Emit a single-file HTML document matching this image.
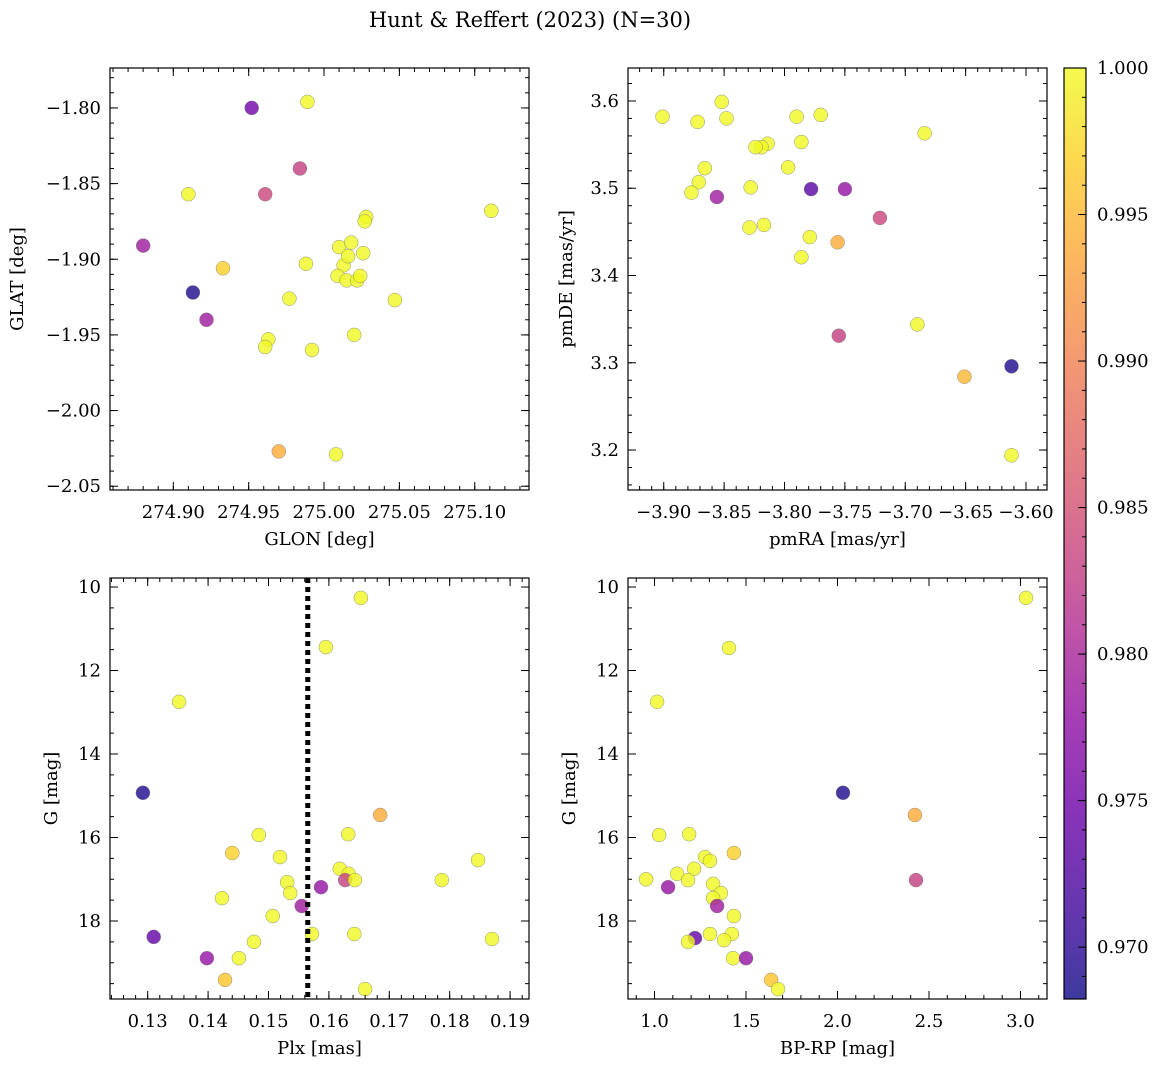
<!DOCTYPE html>
<html><head><meta charset="utf-8">
<style>
html,body{margin:0;padding:0;background:#fff;}
svg{display:block;font-family:"DejaVu Serif","Liberation Serif",serif;}
</style></head>
<body>
<svg id="fig" width="1161" height="1067" viewBox="0 0 1161 1067" xmlns="http://www.w3.org/2000/svg">
<text x="530" y="27" font-size="21" text-anchor="middle">Hunt &amp; Reffert (2023) (N=30)</text>
</svg>
<script>
// ---- data ----
const p1_glon = [274.952,274.989,274.984,274.961,274.910,274.880,275.111,275.028,275.027,274.933,274.913,274.922,274.988,275.010,275.018,275.013,275.016,275.026,275.009,275.015,275.022,275.024,274.977,275.047,274.963,274.961,274.992,275.020,274.970,275.008];
const p1_glat = [-1.800,-1.796,-1.840,-1.857,-1.857,-1.891,-1.868,-1.872,-1.875,-1.906,-1.922,-1.940,-1.903,-1.892,-1.889,-1.904,-1.898,-1.896,-1.911,-1.914,-1.914,-1.911,-1.926,-1.927,-1.953,-1.958,-1.960,-1.950,-2.027,-2.029];
const p1_prob = [0.975,1,0.983,0.984,1,0.979,1,1,1,0.997,0.969,0.979,1,1,1,1,1,1,1,1,1,1,1,1,1,1,1,1,0.994,1];

const p2_pmra = [-3.901,-3.852,-3.872,-3.848,-3.790,-3.770,-3.684,-3.814,-3.819,-3.824,-3.786,-3.866,-3.797,-3.871,-3.877,-3.828,-3.856,-3.778,-3.750,-3.721,-3.829,-3.817,-3.779,-3.756,-3.786,-3.755,-3.690,-3.651,-3.612,-3.612];
const p2_pmde = [3.582,3.599,3.576,3.580,3.582,3.584,3.563,3.551,3.547,3.547,3.553,3.523,3.524,3.507,3.495,3.501,3.490,3.499,3.499,3.466,3.455,3.458,3.444,3.438,3.421,3.331,3.344,3.284,3.296,3.194];
const p2_prob = [1,1,1,1,1,1,1,1,1,1,1,1,1,1,1,1,0.979,0.973,0.978,0.984,1,1,1,0.994,1,0.983,1,0.995,0.969,1];

const p3_plx = [0.1653,0.1595,0.1352,0.1292,0.1685,0.1484,0.1632,0.1440,0.1519,0.1847,0.1618,0.1633,0.1627,0.1643,0.1787,0.1531,0.1587,0.1536,0.1423,0.1555,0.1507,0.1572,0.1642,0.1310,0.1870,0.1476,0.1451,0.1398,0.1428,0.1660];
const p3_g = [10.26,11.44,12.75,14.93,15.46,15.94,15.92,16.37,16.47,16.54,16.75,16.87,17.02,17.02,17.02,17.07,17.19,17.33,17.45,17.64,17.88,18.31,18.31,18.38,18.43,18.50,18.89,18.89,19.41,19.63];
const p3_prob = [1,1,1,0.969,0.994,1,1,0.997,1,1,1,1,0.983,1,1,1,0.978,1,1,0.979,1,1,1,0.974,1,1,1,0.978,0.996,1];
const plx_line = 0.1565;

const p4_bprp = [3.030,1.407,1.014,2.030,2.423,1.025,1.189,1.434,1.276,1.303,1.216,1.123,1.183,0.954,2.429,1.074,1.320,1.363,1.320,1.342,1.434,1.303,1.423,1.221,1.380,1.183,1.429,1.500,1.637,1.675];
const p4_g = [10.26,11.46,12.75,14.93,15.46,15.94,15.92,16.37,16.47,16.56,16.75,16.87,17.02,17.00,17.02,17.19,17.11,17.33,17.45,17.64,17.88,18.31,18.31,18.41,18.46,18.50,18.89,18.89,19.41,19.63];
const p4_prob = [1,1,1,0.969,0.994,1,1,0.997,1,1,1,1,1,1,0.983,0.978,1,1,1,0.979,1,1,1,0.974,1,1,1,0.978,0.996,1];

const cbar_ticks = [0.970,0.975,0.980,0.985,0.990,0.995,1.000];
const p1_xticks = [274.90,274.95,275.00,275.05,275.10];
const p1_yticks = [-1.80,-1.85,-1.90,-1.95,-2.00,-2.05];
const p2_xticks = [-3.90,-3.85,-3.80,-3.75,-3.70,-3.65,-3.60];
const p2_yticks = [3.2,3.3,3.4,3.5,3.6];
const p3_xticks = [0.13,0.14,0.15,0.16,0.17,0.18,0.19];
const g_ticks = [10,12,14,16,18];
const p4_xticks = [1.0,1.5,2.0,2.5,3.0];

const VMIN = 0.96823, VMAX = 1.0;
const NS = "http://www.w3.org/2000/svg";
const svg = document.getElementById('fig');
const stops = ["#0d0887","#41049d","#6a00a8","#8f0da4","#b12a90","#cc4778","#e16462","#f2844b","#fca636","#fcce25","#f0f921"];
function hex(h){return [parseInt(h.substr(1,2),16),parseInt(h.substr(3,2),16),parseInt(h.substr(5,2),16)];}
function plasma(t){
  t=Math.max(0,Math.min(1,t));const f=t*10;const i=Math.min(9,Math.floor(f));const u=f-i;
  const a=hex(stops[i]),b=hex(stops[i+1]);
  return "rgb("+a.map((v,k)=>Math.round(v+(b[k]-v)*u)).join(",")+")";
}
function mk(tag,attrs,parent){const e=document.createElementNS(NS,tag);for(const k in attrs)e.setAttribute(k,attrs[k]);(parent||svg).appendChild(e);return e;}
function fmt(v,d){return (v<0?"\u2212":"")+Math.abs(v).toFixed(d);}

function panel(o){
  const g=mk('g',{});
  
  
  const sx=v=>o.x0+(v-o.xmin)/(o.xmax-o.xmin)*(o.x1-o.x0);
  const sy=o.inv?(v=>o.y0+(v-o.ymin)/(o.ymax-o.ymin)*(o.y1-o.y0)):(v=>o.y1-(v-o.ymin)/(o.ymax-o.ymin)*(o.y1-o.y0));
  const pg=mk('g',{},g);
  
  
  for(let i=0;i<o.xs.length;i++){
    const c=mk('circle',{cx:sx(o.xs[i]).toFixed(1),cy:sy(o.ys[i]).toFixed(1),r:7,fill:plasma((o.ps[i]-VMIN)/(VMAX-VMIN)),'fill-opacity':0.8,stroke:'#777','stroke-width':0.5,'stroke-opacity':0.8},pg);
    
    
  }
  if(o.vline!==undefined){
    const l=mk('line',{x1:sx(o.vline),x2:sx(o.vline),y1:o.y0,y2:o.y1,stroke:'#000','stroke-width':5,'stroke-dasharray':'5 4'},g);
    
    
  }
  const fr=mk('rect',{x:o.x0,y:o.y0,width:o.x1-o.x0,height:o.y1-o.y0,fill:'none',stroke:'#000','stroke-width':1.2},g);
  
  
  const tk=mk('g',{stroke:'#000','stroke-width':1},g);
  const lo=Math.min(o.xmin,o.xmax),hi=Math.max(o.xmin,o.xmax);
  for(let v=Math.ceil(lo/o.xminor-1e-6)*o.xminor;v<=hi+1e-9;v+=o.xminor){
    const X=sx(v);mk('line',{x1:X,x2:X,y1:o.y1,y2:o.y1-4},tk);mk('line',{x1:X,x2:X,y1:o.y0,y2:o.y0+4},tk);
  }
  for(let v=Math.ceil(o.ymin/o.yminor-1e-6)*o.yminor;v<=o.ymax+1e-9;v+=o.yminor){
    const Y=sy(v);mk('line',{x1:o.x0,x2:o.x0+4,y1:Y,y2:Y},tk);mk('line',{x1:o.x1,x2:o.x1-4,y1:Y,y2:Y},tk);
  }
  o.xt.forEach(v=>{const X=sx(v);mk('line',{x1:X,x2:X,y1:o.y1,y2:o.y1-8},tk);mk('line',{x1:X,x2:X,y1:o.y0,y2:o.y0+8},tk);
    const t=mk('text',{x:X,y:o.y1+28,'font-size':18,'text-anchor':'middle'},g);t.textContent=fmt(v,o.xd);
    
    });
  o.yt.forEach(v=>{const Y=sy(v);mk('line',{x1:o.x0,x2:o.x0+8,y1:Y,y2:Y},tk);mk('line',{x1:o.x1,x2:o.x1-8,y1:Y,y2:Y},tk);
    const t=mk('text',{x:o.x0-9,y:Y+6,'font-size':18,'text-anchor':'end'},g);t.textContent=fmt(v,o.yd);
    
    });
  const xl=mk('text',{x:(o.x0+o.x1)/2,y:o.y1+55,'font-size':18,'text-anchor':'middle'},g);xl.textContent=o.xlab;
  
  
  const yx=o.ylx, yy=(o.y0+o.y1)/2;
  const yl=mk('text',{x:yx,y:yy,'font-size':18,'text-anchor':'middle',transform:'rotate(-90 '+yx+' '+yy+')'},g);yl.textContent=o.ylab;
  
  
}

panel({name:'glon-glat-panel',x0:110,x1:529,y0:68,y1:490,xmin:274.858,xmax:275.136,ymin:-2.0525,ymax:-1.7736,xs:p1_glon,ys:p1_glat,ps:p1_prob,xt:p1_xticks,yt:p1_yticks,xd:2,yd:2,xminor:0.01,yminor:0.01,xlab:'GLON [deg]',ylab:'GLAT [deg]',ylx:23});
panel({name:'proper-motion-panel',x0:628,x1:1047,y0:68,y1:490,xmin:-3.9296,xmax:-3.5826,ymin:3.1542,ymax:3.6378,xs:p2_pmra,ys:p2_pmde,ps:p2_prob,xt:p2_xticks,yt:p2_yticks,xd:2,yd:1,xminor:0.01,yminor:0.02,xlab:'pmRA [mas/yr]',ylab:'pmDE [mas/yr]',ylx:572});
panel({name:'plx-g-panel',x0:110,x1:529,y0:578,y1:999,xmin:0.12376,xmax:0.19313,ymin:9.784,ymax:19.868,inv:true,xs:p3_plx,ys:p3_g,ps:p3_prob,xt:p3_xticks,yt:g_ticks,xd:2,yd:0,xminor:0.002,yminor:0.5,xlab:'Plx [mas]',ylab:'G [mag]',ylx:57,vline:plx_line});
panel({name:'color-magnitude-panel',x0:628,x1:1047,y0:578,y1:999,xmin:0.855,xmax:3.145,ymin:9.784,ymax:19.868,inv:true,xs:p4_bprp,ys:p4_g,ps:p4_prob,xt:p4_xticks,yt:g_ticks,xd:1,yd:0,xminor:0.1,yminor:0.5,xlab:'BP-RP [mag]',ylab:'G [mag]',ylx:575});

(function(){
  const x0=1064,x1=1086,y0=68,y1=999;
  const defs=mk('defs',{});
  const lg=mk('linearGradient',{id:'cg',x1:0,y1:1,x2:0,y2:0},defs);
  for(let i=0;i<=20;i++){const t=i/20;mk('stop',{offset:t,'stop-color':plasma(t)},lg);}
  const g=mk('g',{});
  
  
  mk('rect',{x:x0,y:y0,width:x1-x0,height:y1-y0,fill:'url(#cg)','fill-opacity':0.8},g);
  mk('rect',{x:x0,y:y0,width:x1-x0,height:y1-y0,fill:'none',stroke:'#000','stroke-width':1.2},g);
  const sy=v=>y1-(v-VMIN)/(VMAX-VMIN)*(y1-y0);
  for(let v=0.969;v<=1.0001;v+=0.001){const Y=sy(v);mk('line',{x1:x1,x2:x1-4,y1:Y,y2:Y,stroke:'#000'},g);}
  cbar_ticks.forEach(v=>{const Y=sy(v);mk('line',{x1:x1,x2:x1-8,y1:Y,y2:Y,stroke:'#000'},g);
    const t=mk('text',{x:1097,y:Y+6,'font-size':18},g);t.textContent=v.toFixed(3);
    
    });
})();
</script>
</body></html>
